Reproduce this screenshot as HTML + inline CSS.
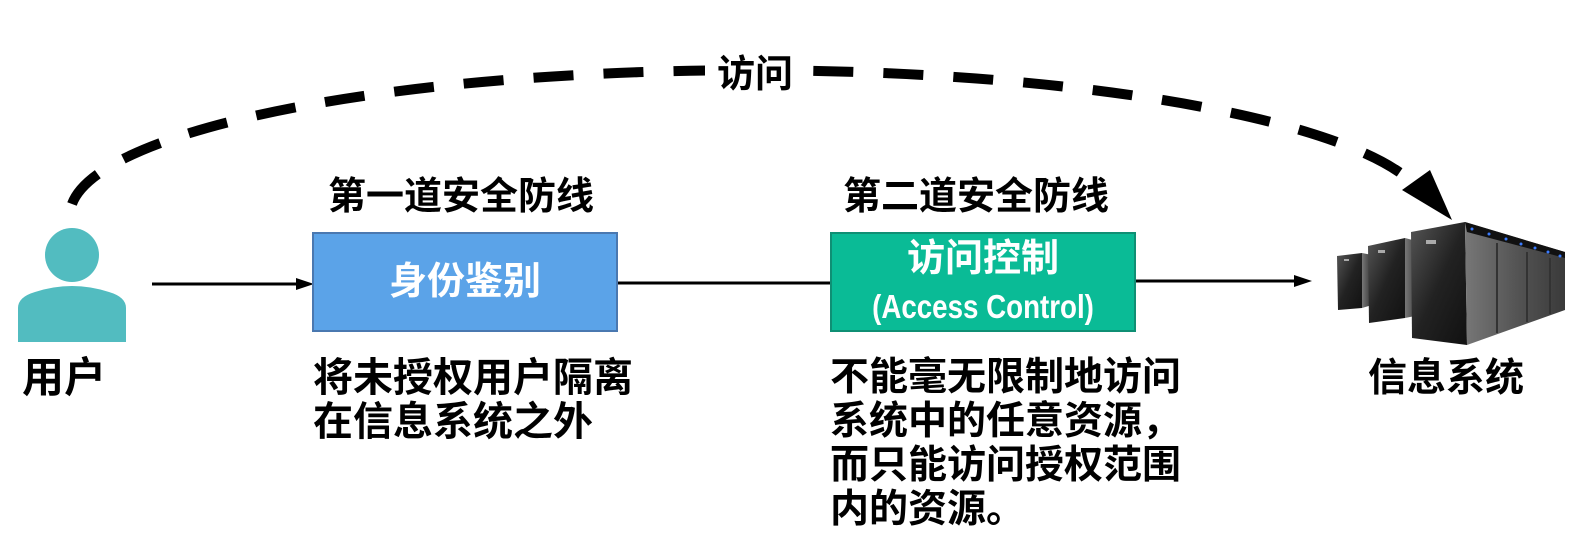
<!DOCTYPE html>
<html><head><meta charset="utf-8"><style>
html,body{margin:0;padding:0;background:#fff}
body{width:1592px;height:552px;position:relative;overflow:hidden;font-family:"Liberation Sans","Noto Sans CJK SC",sans-serif;font-weight:bold;color:#000}
.t{position:absolute;white-space:nowrap;line-height:1}
</style></head><body>
<svg width="1592" height="552" style="position:absolute;left:0;top:0">
<defs>
<linearGradient id="g1" x1="0" y1="0" x2="1" y2="1"><stop offset="0" stop-color="#555"/><stop offset="0.5" stop-color="#222"/><stop offset="1" stop-color="#111"/></linearGradient>
<linearGradient id="g2" x1="0" y1="0" x2="1" y2="0"><stop offset="0" stop-color="#777"/><stop offset="0.5" stop-color="#555"/><stop offset="1" stop-color="#3a3a3a"/></linearGradient>
</defs>
<path d="M72,204 A680,145 0 0 1 1416,186" fill="none" stroke="#000" stroke-width="10" stroke-dasharray="40,30"/>
<rect x="705" y="48" width="105" height="54" fill="#fff"/>
<polygon points="1402,190 1430,170 1452,220" fill="#000"/>
<circle cx="72" cy="255" r="27" fill="#52BCC0"/>
<path d="M18,342 L18,308 Q18,297 35,292 Q72,280 109,292 Q126,297 126,308 L126,342 Z" fill="#52BCC0"/>
<line x1="152" y1="284" x2="300" y2="284" stroke="#000" stroke-width="3"/>
<polygon points="296,278 314,284 296,290" fill="#000"/>
<line x1="617" y1="283" x2="830" y2="283" stroke="#000" stroke-width="3"/>
<line x1="1135" y1="281" x2="1298" y2="281" stroke="#000" stroke-width="3"/>
<polygon points="1294,275 1312,281 1294,287" fill="#000"/>
<rect x="313" y="233" width="304" height="98" fill="#5BA3E8" stroke="#4A78B0" stroke-width="2"/>
<rect x="831" y="233" width="304" height="98" fill="#0ABB96" stroke="#0F8F74" stroke-width="2"/>
<polygon points="1337,256 1362,253 1362,308 1338,310" fill="url(#g1)"/>
<polygon points="1362,253 1372,255 1372,305 1362,308" fill="url(#g2)"/>
<polygon points="1368,246 1405,238 1405,318 1369,323" fill="url(#g1)"/>
<polygon points="1405,238 1420,242 1420,315 1405,318" fill="url(#g2)"/>
<polygon points="1411,232 1465,222 1467,345 1412,338" fill="url(#g1)"/>
<polygon points="1465,222 1565,252 1565,310 1467,345" fill="url(#g2)"/>
<polygon points="1465,222 1565,252 1565,258 1467,232" fill="#111"/>
<g fill="#3a7bff"><circle cx="1472" cy="229" r="1.5"/><circle cx="1489" cy="234" r="1.5"/><circle cx="1506" cy="239" r="1.5"/><circle cx="1521" cy="244" r="1.5"/><circle cx="1535" cy="248" r="1.5"/><circle cx="1548" cy="252" r="1.5"/><circle cx="1560" cy="256" r="1.5"/></g>
<g stroke="#333" stroke-width="2"><line x1="1497" y1="243" x2="1497" y2="333"/><line x1="1527" y1="252" x2="1527" y2="322"/><line x1="1550" y1="258" x2="1550" y2="314"/></g>
<rect x="1426" y="240" width="10" height="4" fill="#aaa"/>
<rect x="1378" y="250" width="7" height="3" fill="#aaa"/>
<rect x="1344" y="259" width="5" height="2" fill="#aaa"/>
</svg>
<div class="t" style="left:717px;top:56px;font-size:38px">访问</div>
<div class="t" style="left:328px;top:178px;font-size:38px">第一道安全防线</div>
<div class="t" style="left:843px;top:178px;font-size:38px">第二道安全防线</div>
<div class="t" style="left:313px;top:263px;width:304px;text-align:center;font-size:38px;color:#fff">身份鉴别</div>
<div class="t" style="left:831px;top:240px;width:304px;text-align:center;font-size:38px;color:#fff">访问控制</div>
<div class="t" style="left:831px;top:290px;width:304px;text-align:center;font-size:33px;color:#fff;transform:scaleX(0.84)">(Access Control)</div>
<div class="t" style="left:22px;top:357px;font-size:42px">用户</div>
<div class="t" style="left:1368px;top:359px;font-size:39px">信息系统</div>
<div class="t" style="left:313px;top:356px;font-size:40px;line-height:44px;white-space:normal;width:340px">将未授权用户隔离<br>在信息系统之外</div>
<div class="t" style="left:830px;top:356px;font-size:39px;line-height:44px;white-space:normal;width:380px">不能毫无限制地访问<br>系统中的任意资源，<br>而只能访问授权范围<br>内的资源。</div>
</body></html>
